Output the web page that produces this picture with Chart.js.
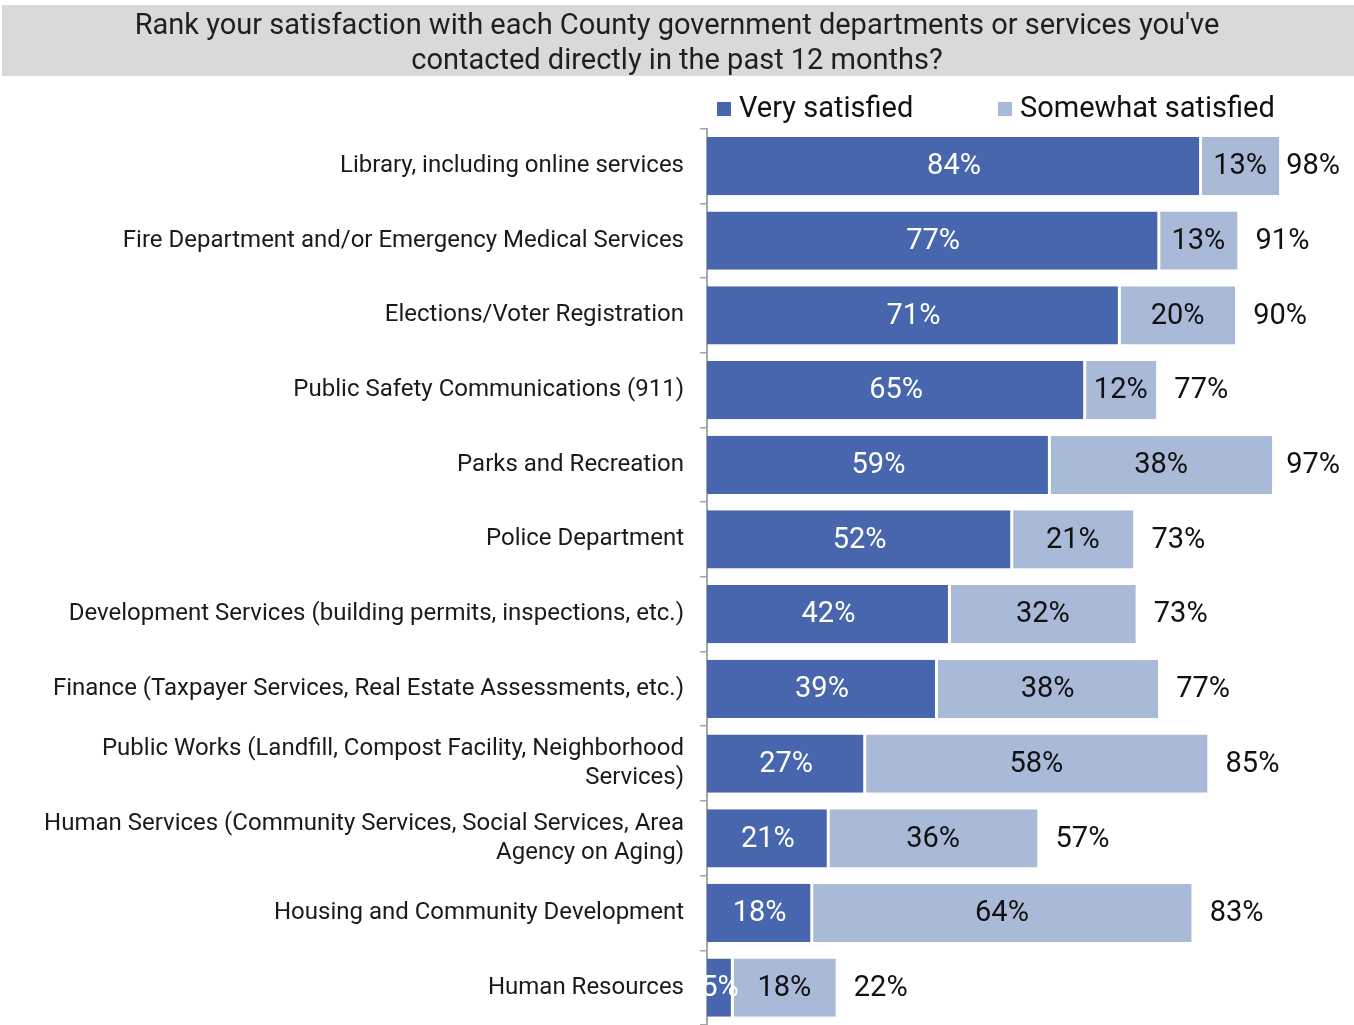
<!DOCTYPE html>
<html>
<head>
<meta charset="utf-8">
<script src="https://cdn.jsdelivr.net/npm/chart.js@4.4.1/dist/chart.umd.min.js"></script>
<style>
  html, body { margin: 0; padding: 0; background: #fff; }
</style>
</head>
<body>
<canvas id="myChart" width="1354" height="1025"></canvas>
<script>
const titleLines = [
  "Rank your satisfaction with each County government departments or services you've",
  'contacted directly in the past 12 months?'
]
const seriesNames = ['Very satisfied', 'Somewhat satisfied']
const categories = [
  'Library, including online services',
  'Fire Department and/or Emergency Medical Services',
  'Elections/Voter Registration',
  'Public Safety Communications (911)',
  'Parks and Recreation',
  'Police Department',
  'Development Services (building permits, inspections, etc.)',
  'Finance (Taxpayer Services, Real Estate Assessments, etc.)',
  ['Public Works (Landfill, Compost Facility, Neighborhood', 'Services)'],
  ['Human Services (Community Services, Social Services, Area', 'Agency on Aging)'],
  'Housing and Community Development',
  'Human Resources'
]
// bar lengths
const verySatisfied = [84.0, 76.9, 70.2, 64.3, 58.3, 51.9, 41.3, 39.1, 26.9, 20.7, 17.9, 4.4]
const somewhatSatisfied = [13.3, 13.3, 19.6, 12.1, 37.8, 20.6, 31.6, 37.6, 58.2, 35.5, 64.5, 17.5]
// printed labels
const veryPct = [84, 77, 71, 65, 59, 52, 42, 39, 27, 21, 18, 5]
const somewhatPct = [13, 13, 20, 12, 38, 21, 32, 38, 58, 36, 64, 18]
const totalPct = [98, 91, 90, 77, 97, 73, 73, 77, 85, 57, 83, 22]

const DARK = '#4866ad'
const LIGHT = '#a9b9d8'
const FONT = 'Roboto'

// gray band behind the title
const titleBox = {
  id: 'titleBox',
  beforeDraw(chart) {
    const t = chart.titleBlock
    const ctx = chart.ctx
    ctx.save()
    ctx.fillStyle = '#d9d9d9'
    ctx.fillRect(2, t.top, chart.width - 2, 71)
    ctx.restore()
  }
}

// legend drawn in the space under the title
const legendRow = {
  id: 'legendRow',
  afterDraw(chart) {
    const ctx = chart.ctx
    const xs = [717, 998]
    ctx.save()
    ctx.font = `29px ${FONT}`
    ctx.textBaseline = 'middle'
    ctx.textAlign = 'left'
    chart.data.datasets.forEach((ds, i) => {
      ctx.fillStyle = ds.backgroundColor
      ctx.fillRect(xs[i], 102, 14, 14)
      ctx.fillStyle = '#111'
      ctx.fillText(ds.label, xs[i] + 22, 110)
    })
    ctx.restore()
  }
}

// value labels inside the bars and totals after them
const barLabels = {
  id: 'barLabels',
  afterDatasetsDraw(chart) {
    const ctx = chart.ctx
    ctx.save()
    ctx.font = `29px ${FONT}`
    ctx.textBaseline = 'middle'
    chart.data.datasets.forEach((ds, i) => {
      ctx.fillStyle = ds.labelColor
      ctx.textAlign = 'center'
      chart.getDatasetMeta(i).data.forEach((bar, j) => {
        ctx.fillText(ds.pct[j] + '%', (bar.base + bar.x) / 2, bar.y + 1)
      })
    })
    ctx.fillStyle = '#111'
    ctx.textAlign = 'left'
    chart.getDatasetMeta(1).data.forEach((bar, j) => {
      const txt = totalPct[j] + '%'
      const w = ctx.measureText(txt).width
      ctx.fillText(txt, Math.min(bar.x + 18, 1340 - w), bar.y + 1)
    })
    ctx.restore()
  }
}

const ctx = document.getElementById('myChart').getContext('2d')
new Chart(ctx, {
  type: 'bar',
  data: {
    labels: categories,
    datasets: [{
      label: seriesNames[0],
      data: verySatisfied,
      pct: veryPct,
      labelColor: '#fff',
      backgroundColor: DARK,
      borderColor: '#fff',
      borderWidth: { top: 0, right: 2, bottom: 0, left: 0 },
      borderSkipped: false,
      barPercentage: 0.78,
      categoryPercentage: 1
    }, {
      label: seriesNames[1],
      data: somewhatSatisfied,
      pct: somewhatPct,
      labelColor: '#111',
      backgroundColor: LIGHT,
      borderColor: '#fff',
      borderWidth: { top: 0, right: 0, bottom: 0, left: 1 },
      borderSkipped: false,
      barPercentage: 0.78,
      categoryPercentage: 1
    }]
  },
  options: {
    indexAxis: 'y',
    responsive: false,
    animation: false,
    devicePixelRatio: 1,
    layout: { padding: { top: 5, right: 0, bottom: 0, left: 0 } },
    plugins: {
      legend: { display: false },
      tooltip: { enabled: false },
      title: {
        display: true,
        text: titleLines,
        color: '#1f1f1f',
        font: { family: FONT, size: 29, weight: 'normal', lineHeight: 1.21 },
        padding: { top: 4, bottom: 49.5 }
      }
    },
    scales: {
      x: {
        stacked: true,
        display: false,
        min: 0,
        max: 110
      },
      y: {
        stacked: true,
        afterFit(scale) {
          scale.width = 707
          scale.paddingTop = 0
          scale.paddingBottom = 0
        },
        grid: {
          display: true,
          drawOnChartArea: false,
          drawTicks: true,
          tickLength: 7,
          offset: true,
          color: '#a6a6a6',
          lineWidth: 1.5
        },
        border: { display: true, color: '#a6a6a6', width: 2 },
        ticks: {
          autoSkip: false,
          padding: 16,
          color: '#1a1a1a',
          font: { family: FONT, size: 24, lineHeight: 1.2 }
        }
      }
    }
  },
  plugins: [titleBox, legendRow, barLabels]
})
</script>
</body>
</html>
